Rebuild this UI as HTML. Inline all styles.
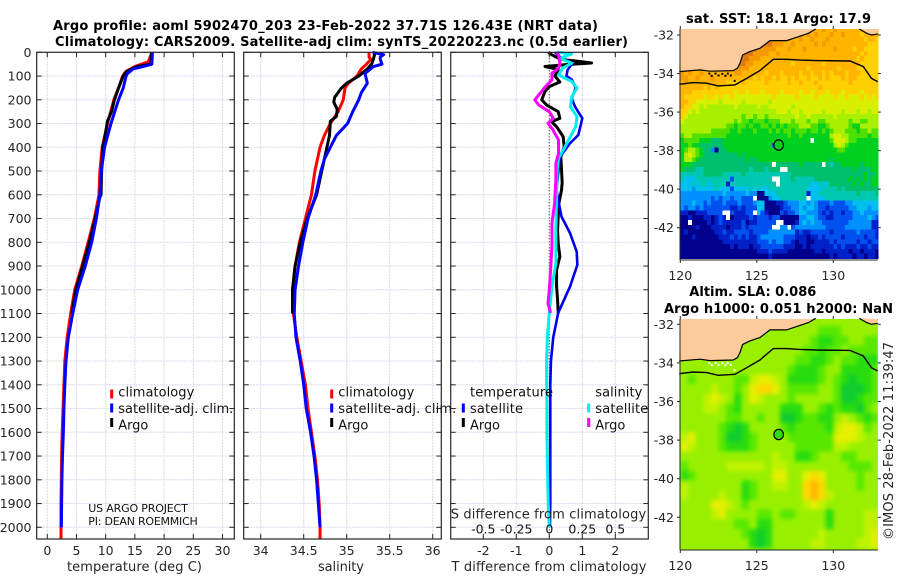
<!DOCTYPE html>
<html lang="en">
<head>
<meta charset="utf-8">
<title>Argo profile 5902470_203</title>
<style>
html,body{margin:0;padding:0;background:#fff;width:900px;height:580px;overflow:hidden}
svg{display:block}
text{font-family:"DejaVu Sans","Liberation Sans",sans-serif;fill:#262626}
.ttl{font-weight:bold;font-size:13px;fill:#000}
.tick{font-size:12.5px}
.leg{font-size:13px;fill:#111}
.lab{font-size:13px}
</style>
</head>
<body>
<svg id="fig" xmlns="http://www.w3.org/2000/svg" width="900" height="580" viewBox="0 0 900 580">
<defs>
<clipPath id="slaClip"><rect x="680" y="319" width="197.8" height="231"></rect></clipPath>
</defs>
<g id="mapLayer"></g>
<g id="gridLayer"></g>
<g id="seriesLayer"></g>
<g id="axisLayer"></g>

<text class="ttl" x="53" y="30" textLength="545" lengthAdjust="spacing">Argo profile: aoml 5902470_203 23-Feb-2022 37.71S 126.43E (NRT data)</text>
<text class="ttl" x="55" y="46" textLength="573" lengthAdjust="spacing">Climatology: CARS2009. Satellite-adj clim: synTS_20220223.nc (0.5d earlier)</text>

<text class="lab" x="67" y="571" textLength="135" lengthAdjust="spacing">temperature (deg C)</text>
<text class="lab" x="318" y="571" textLength="46" lengthAdjust="spacing">salinity</text>
<text class="lab" x="451.5" y="571" textLength="195" lengthAdjust="spacing">T difference from climatology</text>
<text class="lab" x="450.7" y="518.5" textLength="195.5" lengthAdjust="spacing">S difference from climatology</text>

<text class="leg" x="118.3" y="396.5" textLength="76" lengthAdjust="spacing">climatology</text>
<text class="leg" x="118.3" y="413" textLength="115" lengthAdjust="spacing">satellite-adj. clim.</text>
<text class="leg" x="118.3" y="429.5" textLength="30" lengthAdjust="spacing">Argo</text>
<text class="leg" x="338.3" y="396.5" textLength="76" lengthAdjust="spacing">climatology</text>
<text class="leg" x="338.3" y="413" textLength="118" lengthAdjust="spacing">satellite-adj. clim.</text>
<text class="leg" x="338.3" y="429.5" textLength="30" lengthAdjust="spacing">Argo</text>

<text class="leg" x="470" y="396.5" textLength="83" lengthAdjust="spacing">temperature</text>
<text class="leg" x="470" y="413" textLength="53" lengthAdjust="spacing">satellite</text>
<text class="leg" x="470" y="429.5" textLength="30" lengthAdjust="spacing">Argo</text>
<text class="leg" x="595.3" y="396.5" textLength="47" lengthAdjust="spacing">salinity</text>
<text class="leg" x="595.3" y="413" textLength="53" lengthAdjust="spacing">satellite</text>
<text class="leg" x="595.3" y="429.5" textLength="30" lengthAdjust="spacing">Argo</text>

<text x="88.3" y="512" font-size="11" style="fill:#111" textLength="99.5" lengthAdjust="spacing">US ARGO PROJECT</text>
<text x="88.3" y="525" font-size="11" style="fill:#111" textLength="109.5" lengthAdjust="spacing">PI: DEAN ROEMMICH</text>

<text class="ttl" x="686" y="23" textLength="185" lengthAdjust="spacing">sat. SST: 18.1 Argo: 17.9</text>
<text class="ttl" x="689.3" y="296" textLength="127" lengthAdjust="spacing">Altim. SLA: 0.086</text>
<text class="ttl" x="664" y="313" textLength="229" lengthAdjust="spacing">Argo h1000: 0.051 h2000: NaN</text>
<text font-size="13" transform="translate(893,540) rotate(-90)" textLength="198" lengthAdjust="spacing" x="0" y="0">©IMOS 28-Feb-2022 11:39:47</text>
</svg>

<script>
// ---------- profile data ----------
const depthTicks = [0,100,200,300,400,500,600,700,800,900,1000,1100,1200,1300,1400,1500,1600,1700,1800,1900,2000];
const tempTicks = [0,5,10,15,20,25,30];
const salTicks = [34,34.5,35,35.5,36];
const salTickLabels = ['34','34.5','35','35.5','36'];
const tDiffTicks = [-2,-1,0,1,2];
const tDiffLabels = ['-2','-1','0','1','2'];
const sDiffTicks = [-0.5,-0.25,0,0.25,0.5];
const sDiffLabels = ['-0.5','-0.25','0','0.25','0.5'];

const climTempDepth = [0,40,60,80,100,150,200,300,400,500,600,700,800,900,1000,1100,1200,1300,1400,1500,1600,1700,1800,1900,2000,2050];
const climTemp = [17.9,17.3,15.0,13.5,12.9,12.2,11.4,10.3,9.4,9.0,8.85,8.05,7.0,5.9,4.7,4.0,3.4,3.0,2.85,2.7,2.55,2.45,2.4,2.35,2.35,2.35];
const satTempDepth = [0,50,60,70,90,100,150,200,300,400,500,600,700,800,900,1000,1100,1200,1300,1400,1500,1600,1700,1800,1900,2000];
const satTemp = [18.0,17.9,16.4,14.7,13.7,13.5,13.0,12.2,10.9,9.8,9.25,9.0,8.4,7.6,6.5,5.2,4.35,3.6,3.2,3.0,2.85,2.75,2.6,2.5,2.45,2.4];
const argoTempDepth = [0,50,60,80,100,150,200,250,290,350,400,500,600,610,700,800,900,1000,1100];
const argoTemp = [17.9,17.7,15.3,13.6,13.0,12.2,11.5,11.0,10.3,9.9,9.5,9.3,9.2,9.0,8.2,7.2,6.05,4.9,4.2];

const climSalDepth = [0,20,30,50,70,100,130,150,200,250,300,350,400,500,600,700,800,900,1000,1100,1200,1300,1400,1500,1600,1700,1800,1900,2000,2050];
const climSal = [35.26,35.26,35.28,35.23,35.17,35.12,35.02,34.98,34.96,34.9,34.81,34.74,34.69,34.63,34.59,34.52,34.45,34.4,34.37,34.38,34.42,34.47,34.52,34.55,34.59,34.63,34.66,34.68,34.69,34.69];
const satSalDepth = [0,10,20,30,50,60,90,100,130,170,200,250,300,350,400,450,500,600,700,800,900,1000,1100,1200,1300,1400,1500,1600,1700,1800,1900,2000];
const satSal = [35.3,35.43,35.39,35.39,35.41,35.31,35.21,35.22,35.24,35.17,35.14,35.07,35.01,34.88,34.81,34.74,34.7,34.64,34.55,34.49,34.44,34.4,34.39,34.41,34.46,34.5,34.53,34.58,34.62,34.65,34.67,34.69];
const argoSalDepth = [0,30,50,70,100,130,150,170,190,210,240,270,290,350,400,500,600,700,800,900,1000,1100];
const argoSal = [35.33,35.31,35.29,35.24,35.14,35.0,34.94,34.9,34.86,34.85,34.89,34.88,34.81,34.8,34.77,34.71,34.65,34.54,34.46,34.4,34.37,34.37];

const argoTDiffDepth = [0,10,30,38,45,52,60,72,100,125,145,165,200,222,250,278,292,313,355,397,440,495,550,580,636,692,750,806,860,916,985,1040,1097];
const argoTDiff = [-0.03,0.07,0.35,0.9,1.28,0.5,-0.13,0.27,0.17,0.32,-0.01,-0.13,-0.23,-0.08,0.27,0.32,0.07,0.22,0.42,0.45,0.35,0.37,0.39,0.37,0.29,0.27,0.25,0.27,0.32,0.22,0.22,0.25,0.27];
const satTDiffDepth = [0,25,46,75,100,115,150,194,229,278,348,383,440,580,636,692,762,839,895,986,1097,1200,1300,1400,1500,1600,1700,1800,1900,2000];
const satTDiff = [0.17,0.37,0.7,0.55,0.52,0.68,0.8,0.68,0.78,1.0,0.88,0.63,0.32,0.22,0.29,0.37,0.63,0.83,0.85,0.63,0.27,0.12,0.05,0.03,0.03,0.03,0.03,0.03,0.03,0.02];
const satSDiffDepth = [0,7,25,46,67,95,123,150,187,229,271,313,355,397,446,495,608,748,888,986,1097,1200,1300,1400,1500,1600,1700,1800,1900,2000];
const satSDiff = [0.06,0.17,0.08,0.17,0.1,0.07,0.17,0.21,0.17,0.16,0.21,0.2,0.16,0.12,0.07,0.06,0.055,0.05,0.05,0.02,0,-0.015,-0.02,-0.02,-0.018,-0.018,-0.015,-0.012,-0.008,0];
const argoSDiffDepth = [0,11,46,67,88,116,145,173,200,222,250,278,299,320,369,425,467,537,636,720,818,916,1000,1057,1097];
const argoSDiff = [0.055,0.07,0.08,0.07,0.02,0.02,-0.03,-0.07,-0.11,-0.08,0,0.03,-0.01,0.02,0.07,0.07,0.05,0.05,0.04,0.02,0.02,0.01,0,-0.01,0.01];

// ---------- map data ----------
const mapLonTicks = [120,125,130];
const mapLatTicks = [-32,-34,-36,-38,-40,-42];
const floatLon = 126.43;
const floatLat = -37.71;
const coastWestLon = [119.93,121.29,121.94,123.46,123.73,123.9,124.07,124.55,125.2,125.86,126.95,127.6,128.37,128.85];
const coastWestLat = [-33.9,-33.81,-33.88,-33.85,-33.73,-33.47,-33.04,-32.86,-32.69,-32.29,-32.29,-32.12,-31.91,-31.69];
const coastEastLon = [131.7,132.18,132.5,132.9];
const coastEastLat = [-31.69,-31.91,-32,-31.95];
const shelfLon = [119.93,120.85,121.72,122.48,123.57,124.34,125.2,126.08,126.95,127.82,128.91,131.09,131.96,132.5,132.9];
const shelfLat = [-34.56,-34.47,-34.5,-34.64,-34.59,-34.25,-33.85,-33.26,-33.26,-33.3,-33.33,-33.35,-33.64,-34.25,-34.42];
const isletLon = [121.9,122.05,122.3,122.5,122.75,122.95,123.1,123.3,123.55];
const isletLat = [-34.0,-34.12,-34.0,-34.1,-34.02,-34.12,-34.0,-34.1,-34.38];

const sstColors = ['#00008c','#0020c8','#0050f0','#0090ff','#00c0f0','#00c8b0','#00c070','#00d020','#50e000','#a8f000','#d8f000','#ffd000','#ffb400','#f59a00','#dd7a10'];
const slaColors = ['#10cc30','#28dc10','#58e800','#98f000','#c0f200','#e6f000','#ffd800','#ffb800'];

const sstGrid = [
[12,12,12,12,12,12,12,12,12,12,12,12,12,12,12,12,12,12,12,12,12,12,12,12,12,12,12,12,12,12,12,12,13,13,12,12,12,13,12,12,13,12,12,12,12,12,12,12,12,12,12,12],
[12,12,12,12,12,12,12,12,12,12,12,12,12,12,12,12,12,12,12,12,12,12,12,12,12,12,12,12,13,13,12,12,12,13,12,13,12,12,12,13,12,12,13,12,12,12,12,11,12,12,12,12],
[12,12,12,12,12,12,12,12,12,12,12,12,12,12,12,12,12,12,12,12,12,12,12,12,13,13,13,13,13,12,12,13,12,12,13,12,12,12,13,12,12,12,12,12,12,12,12,12,11,12,12,11],
[12,12,12,12,12,12,12,12,12,12,12,12,12,12,12,12,12,12,12,12,13,13,14,14,13,13,13,12,12,13,12,12,12,12,12,13,12,13,12,12,12,12,12,12,12,12,12,12,12,11,11,11],
[12,12,12,12,12,12,12,12,12,12,12,12,12,12,12,14,14,14,14,14,13,13,13,13,13,12,12,12,13,12,12,12,13,12,12,12,12,12,12,12,13,12,12,12,12,11,12,12,11,11,11,11],
[12,12,12,12,12,12,12,12,12,12,12,12,12,12,12,14,14,14,14,13,13,13,13,12,12,13,12,12,12,12,12,12,12,12,12,12,12,12,12,12,12,12,12,12,12,12,12,11,12,11,11,11],
[12,12,12,12,12,12,12,12,12,12,12,12,12,12,12,14,14,14,13,13,13,12,12,12,12,12,12,12,12,12,12,12,12,12,12,12,12,12,12,12,12,12,12,12,12,12,11,12,11,11,11,11],
[12,12,12,12,12,12,12,12,12,12,12,12,12,12,13,14,14,13,13,12,12,12,12,12,12,12,12,12,12,11,12,12,12,12,12,12,12,11,12,12,12,12,12,12,12,12,12,11,11,11,11,11],
[12,12,12,12,12,12,12,12,12,12,12,12,12,12,13,13,13,13,12,12,12,12,12,12,12,12,12,12,12,12,12,12,12,11,12,12,12,12,12,12,12,11,12,12,12,12,11,11,11,11,11,11],
[13,12,13,12,12,13,12,12,12,12,12,12,12,12,13,13,12,12,12,12,12,12,11,12,12,12,11,12,12,12,12,11,12,12,11,12,12,11,12,11,12,12,12,11,12,12,12,11,11,11,11,11],
[13,13,12,12,13,12,12,12,13,12,12,12,12,12,12,12,12,12,12,11,12,11,12,12,11,12,11,11,12,11,12,11,11,12,11,11,12,11,12,11,11,11,12,11,12,12,11,11,11,11,11,11],
[12,13,12,12,12,12,12,12,12,12,12,12,11,11,11,11,12,11,11,11,11,11,12,11,11,11,11,11,12,11,11,12,11,11,11,12,11,11,11,11,11,11,11,11,12,11,11,11,11,11,11,11],
[12,12,12,12,12,12,11,12,11,12,11,11,11,11,11,11,11,11,11,11,11,11,11,11,11,11,11,11,11,11,11,11,11,11,11,11,12,11,11,11,11,11,11,11,11,11,11,11,11,11,11,11],
[12,12,12,11,11,11,11,11,11,11,11,11,11,11,10,11,11,10,11,11,11,10,11,11,11,11,10,11,11,11,11,10,11,11,10,11,11,11,10,11,11,11,10,11,11,11,11,10,11,11,11,11],
[12,11,11,11,11,11,10,11,11,10,11,10,10,11,10,10,10,10,10,10,10,10,10,10,11,10,10,10,10,10,11,10,10,10,10,11,10,10,10,10,11,10,10,11,10,10,10,11,10,11,10,11],
[12,12,11,11,10,10,10,10,10,10,9,10,10,10,10,10,9,10,10,10,10,10,10,9,10,10,10,10,10,10,10,10,10,10,10,10,10,10,10,10,10,10,10,10,10,10,10,10,10,10,10,10],
[12,11,11,10,10,9,10,9,9,9,9,9,9,9,10,9,9,9,9,9,10,9,9,10,10,10,10,10,10,9,10,10,10,10,10,10,10,10,10,10,10,10,10,10,10,10,10,10,10,10,10,10],
[11,11,10,9,10,9,9,9,9,9,9,9,9,9,9,9,9,9,9,9,9,9,9,9,9,10,10,10,9,10,10,9,10,10,10,10,10,9,10,10,10,10,9,10,10,10,9,10,10,9,10,10],
[11,10,9,9,9,9,9,9,9,9,9,9,9,9,9,9,8,9,9,8,9,9,8,9,9,9,9,9,9,9,10,9,9,10,9,9,9,9,9,9,10,9,9,9,9,9,9,9,9,9,9,9],
[10,9,9,9,9,9,9,9,9,9,9,9,9,9,8,9,8,8,7,8,8,8,7,8,8,8,9,9,9,8,9,9,9,8,9,9,8,8,9,9,9,9,9,9,8,9,9,8,8,9,9,9],
[9,9,9,9,9,9,9,9,9,9,9,9,8,8,7,8,8,7,8,7,7,8,8,7,8,7,8,7,8,8,8,9,9,9,8,8,7,7,8,9,9,9,9,9,8,7,7,9,9,9,9,9],
[9,9,9,9,9,9,9,9,8,8,8,8,8,7,7,8,7,7,7,8,7,7,7,8,7,8,7,8,8,7,8,8,8,7,8,8,7,8,7,8,9,9,9,8,8,8,7,8,8,9,8,8],
[8,9,9,8,8,8,8,8,8,8,8,8,7,7,7,7,7,7,7,7,7,7,7,7,7,7,7,7,8,7,7,8,7,7,7,7,7,7,7,9,10,10,9,9,8,8,8,8,8,7,8,8],
[7,8,8,8,8,7,7,7,6,6,6,7,7,7,7,7,7,7,7,7,7,7,7,7,7,7,7,7,7,7,7,7,7,7,-1,7,7,7,7,8,10,10,10,9,8,8,7,7,7,7,7,7],
[7,7,8,7,7,6,6,6,6,6,6,7,7,7,7,7,7,7,7,7,7,7,7,7,2,7,7,7,7,7,7,7,7,7,7,7,7,7,7,7,9,10,9,8,7,7,7,7,7,7,7,7],
[7,8,9,9,8,7,6,6,3,0,6,6,7,7,7,7,7,7,7,7,7,7,7,7,7,7,7,7,7,7,7,7,7,7,7,7,7,7,7,7,7,8,8,7,7,7,7,7,7,7,7,7],
[7,9,10,9,8,7,6,6,6,6,6,6,6,6,6,7,6,7,7,7,7,7,7,7,7,7,7,7,7,7,7,7,7,7,7,7,7,7,7,7,7,7,7,7,7,7,7,7,7,7,7,7],
[7,9,9,8,7,6,6,6,6,6,6,6,6,6,6,6,6,7,6,6,7,7,7,7,7,7,7,7,7,7,7,7,7,7,7,7,7,7,7,6,7,7,7,7,7,7,7,7,7,7,7,7],
[7,7,7,6,6,6,6,6,6,6,6,6,6,6,6,6,6,6,6,6,6,6,6,6,-1,6,6,6,6,6,6,7,6,6,6,6,6,-1,6,5,6,6,7,7,7,7,7,6,7,7,7,7],
[7,6,6,6,5,5,6,6,6,6,6,6,6,6,6,6,6,6,5,6,6,6,5,6,6,6,-1,-1,6,6,6,6,6,6,6,6,6,6,6,6,6,6,6,6,6,7,6,6,6,6,7,7],
[5,5,5,5,5,5,6,6,6,6,6,5,5,5,5,5,6,5,5,5,5,5,5,5,5,5,5,5,5,6,6,6,6,6,6,6,6,6,6,6,6,6,6,6,6,6,6,6,7,6,6,7],
[5,4,4,4,5,5,5,5,5,5,5,5,5,2,5,5,5,5,5,5,5,5,5,5,-1,-1,5,5,5,6,5,5,5,5,5,6,6,6,6,6,6,6,6,6,7,6,7,6,7,6,7,7],
[4,4,4,5,4,5,5,4,5,5,5,5,1,5,5,5,5,5,5,5,5,5,5,5,5,-1,5,5,5,5,5,5,5,5,4,4,5,4,5,6,6,6,6,6,6,7,6,7,6,6,7,7],
[4,4,4,3,4,4,4,4,4,5,4,4,4,2,4,4,4,4,5,4,5,4,4,5,5,5,5,5,5,5,5,5,5,4,4,4,4,5,5,5,5,6,5,6,6,6,6,6,6,6,6,6],
[3,3,3,3,3,3,3,3,3,3,3,4,3,3,3,3,3,4,3,3,0,0,4,4,4,5,5,5,5,5,5,5,5,1,4,4,5,5,5,5,5,5,5,5,5,5,6,5,5,5,5,6],
[3,3,3,3,3,3,3,3,2,3,2,3,3,2,3,3,2,2,2,-1,0,0,0,3,4,4,5,5,5,5,5,5,5,-1,4,4,4,4,5,5,5,5,5,5,5,5,5,5,5,5,5,5],
[3,3,3,4,3,3,2,3,2,2,2,3,2,2,2,3,2,2,2,3,4,4,0,0,0,1,1,2,3,3,3,4,4,3,4,3,2,2,2,3,2,2,2,3,3,4,4,4,4,4,4,4],
[3,2,3,3,2,3,2,2,2,2,2,2,2,1,1,2,1,2,2,2,4,4,0,0,0,0,1,2,2,3,3,4,3,4,4,3,2,2,1,2,2,2,2,2,3,3,4,4,4,3,4,4],
[1,1,0,0,1,1,1,2,2,2,2,-1,-1,2,1,1,1,2,2,-1,4,2,1,0,0,0,2,1,2,2,3,4,4,3,3,3,2,1,2,1,2,2,1,2,2,3,3,4,3,3,3,3],
[0,0,1,0,0,0,1,1,0,1,2,1,-1,0,1,1,1,1,2,1,2,2,2,1,2,2,0,0,0,0,0,3,3,4,4,3,2,2,1,1,2,2,2,2,2,3,3,3,3,4,3,2],
[0,0,-1,0,0,0,0,1,0,1,2,1,1,1,1,1,2,0,1,1,2,2,2,2,2,-1,-1,0,0,0,1,3,4,3,4,3,3,2,2,2,2,2,2,2,3,3,3,3,3,3,1,1],
[0,0,0,0,1,0,0,0,1,1,1,1,0,1,1,1,2,1,2,2,2,2,2,2,-1,-1,3,3,-1,2,3,3,3,3,3,3,3,3,2,2,2,2,2,3,3,3,3,3,3,3,1,1],
[0,1,0,0,0,0,0,0,0,1,1,2,1,1,2,2,2,2,1,2,2,2,2,3,3,3,3,3,3,3,1,2,1,1,2,2,2,2,2,1,2,2,2,2,2,2,3,2,2,2,2,1],
[0,0,0,1,0,0,0,0,0,0,1,1,1,2,1,2,1,2,1,1,2,3,3,3,3,3,3,2,2,2,1,1,1,0,1,1,2,1,2,2,2,2,1,2,2,2,2,2,1,2,2,1],
[0,0,0,0,0,0,0,0,0,0,0,1,1,1,1,1,1,1,1,1,2,2,2,3,2,3,3,2,2,1,0,1,1,0,0,1,1,1,1,2,1,2,2,2,2,2,1,2,2,1,2,2],
[0,0,0,0,0,0,0,0,0,0,0,0,0,1,0,1,1,1,0,1,1,2,2,2,2,2,2,1,1,1,0,0,1,0,1,1,1,1,1,1,2,1,2,1,1,1,2,1,1,2,1,1],
[0,0,0,0,0,0,0,0,0,0,0,0,0,0,0,0,0,0,0,0,1,1,1,2,1,1,1,1,0,0,0,0,0,0,0,1,1,0,1,1,1,1,1,1,0,1,1,0,1,1,1,0],
[0,0,0,0,0,0,0,0,0,0,0,0,0,0,0,0,0,0,0,0,0,0,0,1,0,0,0,0,0,0,0,0,0,0,0,0,0,0,0,1,0,1,1,1,1,0,1,1,0,1,1,0]
];

const slaGrid = [
[3,3,3,3,3,3,3,3,3,3,3,3,3,3,3,3,3,3,3,3,3,3,3,3,3,3],
[3,3,3,3,3,3,3,3,3,3,3,3,3,3,3,3,3,3,2,2,2,3,3,3,3,3],
[3,3,3,3,3,3,3,3,3,3,3,3,3,3,3,3,3,2,1,1,2,2,3,3,2,2],
[3,3,3,3,3,3,3,3,3,3,3,3,3,3,3,3,2,2,1,2,2,3,2,2,2,2],
[3,3,3,3,3,3,3,3,3,3,3,3,3,3,3,2,2,1,1,2,3,2,2,1,1,1],
[3,3,3,3,3,3,3,3,3,3,3,3,3,3,2,1,1,1,2,3,3,1,1,1,1,2],
[3,2,3,3,3,3,3,2,2,4,5,5,4,3,1,1,1,1,2,3,2,1,0,1,1,2],
[3,3,3,3,4,3,3,2,3,5,6,6,5,3,2,2,2,2,3,3,2,0,0,0,1,2],
[3,3,3,4,5,4,3,1,3,5,4,3,3,3,2,3,3,3,3,3,2,0,0,1,2,2],
[3,3,3,4,4,3,2,1,3,3,3,3,3,1,1,1,3,3,2,1,2,1,1,0,2,3],
[3,3,3,3,3,3,2,2,3,3,2,3,3,0,0,1,2,2,1,1,3,4,3,2,1,2],
[3,3,3,3,3,2,1,0,1,3,3,3,3,2,1,2,2,2,2,1,4,5,5,4,2,3],
[4,5,3,3,3,2,0,0,1,2,3,3,3,3,2,2,2,2,2,2,5,5,5,4,3,3],
[5,4,3,3,3,2,1,1,1,2,3,3,3,3,3,2,2,2,2,2,4,4,3,3,3,3],
[3,3,3,3,3,3,3,3,3,3,3,3,4,3,3,1,1,2,3,3,3,2,2,3,3,3],
[2,3,3,3,3,3,4,4,4,4,4,3,4,4,3,3,3,3,3,3,3,3,2,2,2,3],
[1,2,3,3,3,3,3,3,3,3,3,3,5,5,3,3,5,6,5,3,3,3,3,2,3,3],
[4,3,3,3,3,3,3,3,1,2,3,3,4,4,3,3,6,7,6,3,3,3,3,2,3,3],
[4,3,3,3,3,4,3,3,1,2,3,3,3,3,3,3,6,7,6,4,3,3,3,3,3,3],
[3,3,3,3,5,5,4,3,2,3,3,3,3,3,3,3,4,5,4,3,3,3,3,3,3,3],
[3,3,3,3,4,5,3,3,3,3,2,2,3,2,2,3,3,3,3,1,3,3,3,3,4,4],
[3,3,3,3,3,3,3,2,2,3,1,1,3,3,3,3,3,3,3,1,3,3,3,3,4,4],
[3,3,3,3,3,3,3,3,2,1,0,1,3,3,3,3,3,3,4,3,3,3,3,3,4,5],
[3,3,3,3,3,3,3,3,3,1,0,1,3,3,3,3,3,4,4,3,3,3,3,4,4,5]
];

const sstGridStartLat = -31.6;
const slaGridStartLat = -31.6;
const gridStartLon = 120;
const sstCellDeg = 0.25;
const slaCellDeg = 0.5;
const minLon = 120, maxLon = 132.92, maxLat = -31.6, minLat = -43.6;

// ---------- scales ----------
const depthY = d => 52.3 + d * 0.2375;
const tempX = t => 47.3 + t * 5.84;
const salX = s => 260.7 + (s - 34) * 86;
const tDiffX = t => 549.3 + t * 33;
const sDiffX = s => 549.3 + s * 132;
const panelTop = 52.3, panelBottom = 539;
const panels = [{l:36.7,r:234.3},{l:243.7,r:441.3},{l:450.7,r:648.3}];
const mapLonX = lon => 680.3 + (lon - 120) * 15.3;
const map1LatY = lat => 35 + (-32 - lat) * 19.27;
const map2LatY = lat => 324.3 + (-32 - lat) * 19.3;
const NS = 'http://www.w3.org/2000/svg';
const mapLayer = document.getElementById('mapLayer');
const gridLayer = document.getElementById('gridLayer');
const seriesLayer = document.getElementById('seriesLayer');
const axisLayer = document.getElementById('axisLayer');

function mk(tag, attrs, parent){
  const el = document.createElementNS(NS, tag);
  for (const k in attrs) el.setAttribute(k, attrs[k]);
  parent.appendChild(el);
  return el;
}

// ---------- heat maps ----------
function drawHeat(grid, colors, cell, startLat, latY, clipTop, clipBottom, cellName, parent){
  grid.forEach((row, r) => {
    row.forEach((v, c) => {
      const lon0 = gridStartLon + c * cell;
      const lon1 = Math.min(maxLon, lon0 + cell);
      const lat0 = startLat - r * cell;
      const lat1 = lat0 - cell;
      const y0 = Math.max(clipTop, latY(lat0));
      const y1 = Math.min(clipBottom, latY(lat1));
      const el = mk('rect', {x: mapLonX(lon0), y: y0, width: mapLonX(lon1) - mapLonX(lon0) + 0.4, height: y1 - y0 + 0.4, fill: v < 0 ? '#ffffff' : colors[v], 'shape-rendering': 'crispEdges'}, parent);
      
      
    });
  });
}

function polyPoints(lons, lats, latY){
  return lons.map((lon, i) => mapLonX(lon).toFixed(1) + ',' + latY(lats[i]).toFixed(1)).join(' ');
}

function drawMapOverlay(latY, top, bottom, isletColor, markerFill){
  const west = mk('polygon', {points: mapLonX(minLon) + ',' + top + ' ' + polyPoints(coastWestLon, coastWestLat, latY) + ' ' + mapLonX(coastWestLon[coastWestLon.length - 1]) + ',' + top, fill: '#fccb9b'}, mapLayer);
  
  
  const east = mk('polygon', {points: polyPoints(coastEastLon, coastEastLat, latY) + ' ' + mapLonX(132.92) + ',' + top, fill: '#fccb9b'}, mapLayer);
  
  
  const c1 = mk('polyline', {points: polyPoints(coastWestLon, coastWestLat, latY), fill: 'none', stroke: '#000', 'stroke-width': 1.2}, mapLayer);
  
  
  const c2 = mk('polyline', {points: polyPoints(coastEastLon, coastEastLat, latY), fill: 'none', stroke: '#000', 'stroke-width': 1.2}, mapLayer);
  
  
  const s = mk('polyline', {points: polyPoints(shelfLon, shelfLat, latY), fill: 'none', stroke: '#000', 'stroke-width': 1.4}, mapLayer);
  
  
  isletLon.forEach((lon, i) => {
    const d = mk('rect', {x: mapLonX(lon) - 1, y: latY(isletLat[i]) - 1, width: 2, height: 2, fill: isletColor}, mapLayer);
    
    
  });
  const m = mk('ellipse', {cx: mapLonX(floatLon), cy: latY(floatLat), rx: 4.8, ry: 5.2, fill: markerFill, stroke: '#000', 'stroke-width': 1.2}, mapLayer);
  
  
}

function drawMapAxes(latY, top, bottom, labelY, prefix){
  const right = 877.8, left = 680;
  const la = mk('line', {x1: left, x2: left, y1: top, y2: bottom, stroke: '#262626', 'stroke-width': 1}, axisLayer);
  
  
  const ba = mk('line', {x1: left, x2: right, y1: bottom, y2: bottom, stroke: '#262626', 'stroke-width': 1}, axisLayer);
  
  
  mapLonTicks.forEach(lon => {
    const x = mapLonX(lon);
    const t1 = mk('line', {x1: x, x2: x, y1: top - 3, y2: top, stroke: '#262626'}, axisLayer);
    
    
    const t2 = mk('line', {x1: x, x2: x, y1: bottom, y2: bottom + 3, stroke: '#262626'}, axisLayer);
    
    
    const tx = mk('text', {x: x, y: labelY, 'text-anchor': 'middle', class: 'tick'}, axisLayer);
    
    
    tx.textContent = String(lon);
  });
  mapLatTicks.forEach(lat => {
    const y = latY(lat);
    const t1 = mk('line', {x1: left - 3, x2: left, y1: y, y2: y, stroke: '#262626'}, axisLayer);
    
    
    const t2 = mk('line', {x1: right, x2: right + 3, y1: y, y2: y, stroke: '#262626'}, axisLayer);
    
    
    const tx = mk('text', {x: 674, y: y + 4.5, 'text-anchor': 'end', class: 'tick'}, axisLayer);
    
    
    tx.textContent = String(lat);
  });
}

drawHeat(sstGrid, sstColors, sstCellDeg, sstGridStartLat, map1LatY, 29, 260, 'sst-cell', mapLayer);
drawMapOverlay(map1LatY, 29, 260, '#000', '#00d020');
drawMapAxes(map1LatY, 29, 260, 280, 'sst-map');

const slaClipGroup = mk('g', {'clip-path': 'url(#slaClip)'}, mapLayer);


const slaBase = mk('rect', {x: 680, y: 319, width: 198, height: 231, fill: slaColors[3]}, slaClipGroup);


const slaCells = mk('g', {style: 'filter:blur(2.2px)'}, slaClipGroup);


drawHeat(slaGrid, slaColors, slaCellDeg, slaGridStartLat, map2LatY, 319, 550, 'sla-cell', slaCells);
drawMapOverlay(map2LatY, 319, 550, '#fff', '#30dd10');
drawMapAxes(map2LatY, 319, 550, 570, 'sla-map');

// ---------- grids, ticks, frames ----------
function drawPanel(p, xTicks, xFn, idx){
  xTicks.forEach(v => {
    const x = xFn(v);
    const g1 = mk('line', {x1: x, x2: x, y1: panelTop, y2: panelBottom, stroke: '#d2d9f6', 'stroke-width': 1, 'stroke-dasharray': '2 1'}, gridLayer);
    
    
    const g2 = mk('line', {x1: x, x2: x, y1: panelTop, y2: panelBottom, stroke: '#f2dcc8', 'stroke-width': 1, 'stroke-dasharray': '1 5'}, gridLayer);
    
    
    const t1 = mk('line', {x1: x, x2: x, y1: panelTop, y2: panelTop + 5, stroke: '#262626'}, axisLayer);
    
    
    const t2 = mk('line', {x1: x, x2: x, y1: panelBottom - 5, y2: panelBottom, stroke: '#262626'}, axisLayer);
    
    
  });
  depthTicks.forEach(d => {
    const y = depthY(d);
    const g1 = mk('line', {x1: p.l, x2: p.r, y1: y, y2: y, stroke: '#d2d9f6', 'stroke-width': 1, 'stroke-dasharray': '2 1'}, gridLayer);
    
    
    const g2 = mk('line', {x1: p.l, x2: p.r, y1: y, y2: y, stroke: '#f2dcc8', 'stroke-width': 1, 'stroke-dasharray': '1 5'}, gridLayer);
    
    
    const t1 = mk('line', {x1: p.l, x2: p.l + 5, y1: y, y2: y, stroke: '#262626'}, axisLayer);
    
    
    const t2 = mk('line', {x1: p.r - 5, x2: p.r, y1: y, y2: y, stroke: '#262626'}, axisLayer);
    
    
  });
  const fr = mk('rect', {x: p.l, y: panelTop, width: p.r - p.l, height: panelBottom - panelTop, fill: 'none', stroke: '#262626', 'stroke-width': 1.2}, axisLayer);
  
  
}
drawPanel(panels[0], tempTicks, tempX, 1);
drawPanel(panels[1], salTicks, salX, 2);
drawPanel(panels[2], tDiffTicks, tDiffX, 3);

depthTicks.forEach(d => {
  const tx = mk('text', {x: 31.5, y: depthY(d) + 4.5, 'text-anchor': 'end', class: 'tick'}, axisLayer);
  
  
  tx.textContent = String(d);
});
tempTicks.forEach(v => {
  const tx = mk('text', {x: tempX(v), y: 555, 'text-anchor': 'middle', class: 'tick'}, axisLayer);
  
  
  tx.textContent = String(v);
});
salTicks.forEach((v, i) => {
  const tx = mk('text', {x: salX(v), y: 555, 'text-anchor': 'middle', class: 'tick'}, axisLayer);
  
  
  tx.textContent = salTickLabels[i];
});
tDiffTicks.forEach((v, i) => {
  const tx = mk('text', {x: tDiffX(v), y: 555, 'text-anchor': 'middle', class: 'tick'}, axisLayer);
  
  
  tx.textContent = tDiffLabels[i];
});
sDiffTicks.forEach((v, i) => {
  const tx = mk('text', {x: sDiffX(v), y: 533.5, 'text-anchor': 'middle', class: 'tick'}, axisLayer);
  
  
  tx.style.fill = '#111';
  tx.textContent = sDiffLabels[i];
});

// ---------- series ----------
function profile(values, depths, xFn, color, width, name){
  const pts = values.map((v, i) => xFn(v).toFixed(2) + ',' + depthY(depths[i]).toFixed(2)).join(' ');
  const el = mk('polyline', {points: pts, fill: 'none', stroke: color, 'stroke-width': width, 'stroke-linejoin': 'round'}, seriesLayer);
  
  
}
profile(climTemp, climTempDepth, tempX, '#ff0000', 3, 'temperature-climatology-line');
profile(argoTemp, argoTempDepth, tempX, '#000000', 3, 'temperature-argo-line');
profile(satTemp, satTempDepth, tempX, '#0000ff', 3, 'temperature-satellite-line');
profile(climSal, climSalDepth, salX, '#ff0000', 3, 'salinity-climatology-line');
profile(argoSal, argoSalDepth, salX, '#000000', 3, 'salinity-argo-line');
profile(satSal, satSalDepth, salX, '#0000ff', 3, 'salinity-satellite-line');

const zeroLine = mk('line', {x1: tDiffX(0), x2: tDiffX(0), y1: panelTop, y2: panelBottom, stroke: '#333', 'stroke-width': 1, 'stroke-dasharray': '1 2'}, seriesLayer);


profile(argoTDiff, argoTDiffDepth, tDiffX, '#000000', 3, 't-difference-argo-line');
profile(satTDiff, satTDiffDepth, tDiffX, '#0000ee', 2.6, 't-difference-satellite-line');
profile(satSDiff, satSDiffDepth, sDiffX, '#00eeee', 3, 's-difference-satellite-line');
profile(argoSDiff, argoSDiffDepth, sDiffX, '#ff00ff', 3, 's-difference-argo-line');

// ---------- legend swatches ----------
const swatchX = [111.7,111.7,111.7,331.7,331.7,331.7,463.3,463.3,588.7,588.7];
const swatchY = [394,408,422.5,394,408,422.5,408,422.5,408,422.5];
const swatchColor = ['#ff0000','#0000ff','#000000','#ff0000','#0000ff','#000000','#0000ff','#000000','#00eeee','#ff00ff'];
swatchX.forEach((x, i) => {
  const el = mk('rect', {x: x - 1.5, y: swatchY[i] - 4.5, width: 3, height: 9, fill: swatchColor[i]}, axisLayer);
  
  
});
</script>
</body>
</html>
